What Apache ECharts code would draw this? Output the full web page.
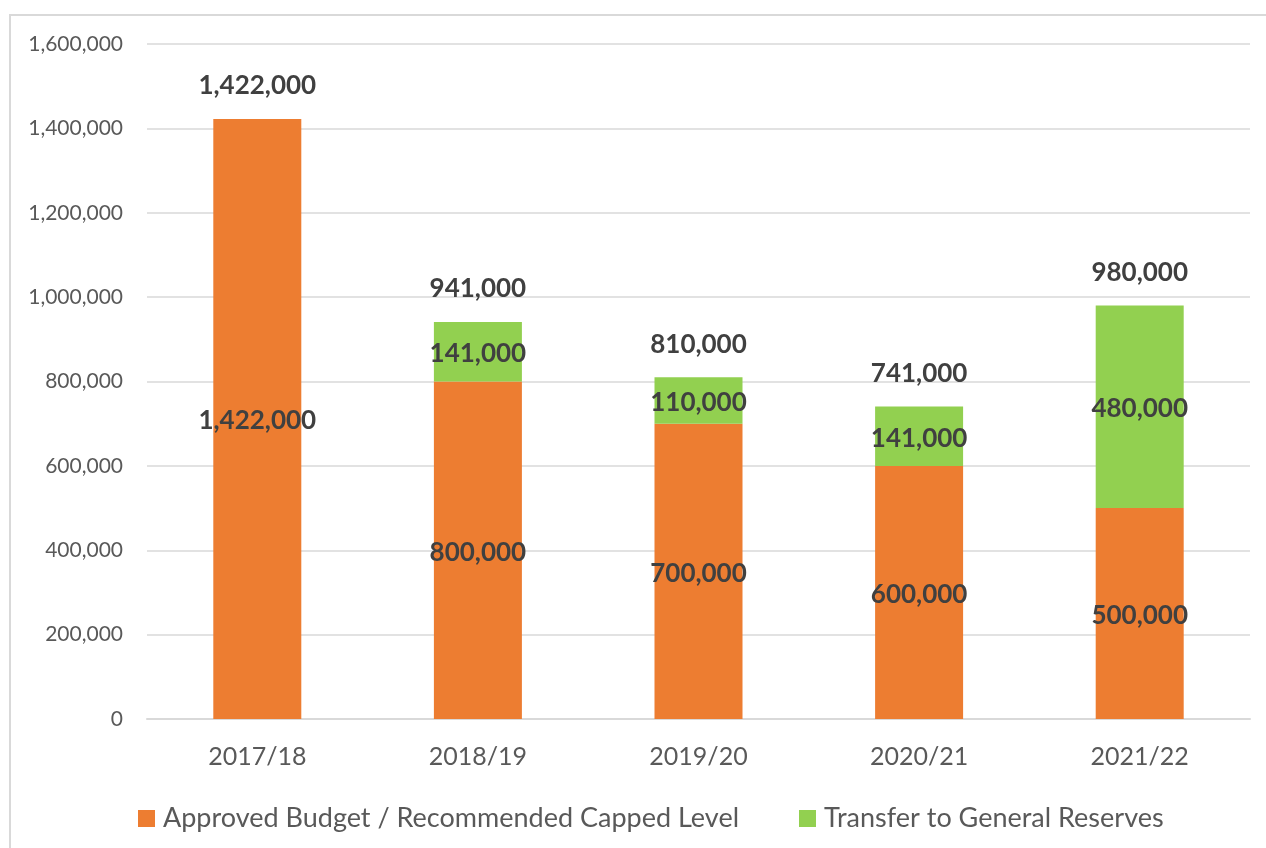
<!DOCTYPE html>
<html>
<head>
<meta charset="utf-8">
<script src="https://cdn.jsdelivr.net/npm/echarts@6/dist/echarts.min.js"></script>
<style>
html, body { margin: 0; padding: 0; background: #fff; }
#chart { width: 1266px; height: 848px; }
</style>
</head>
<body>
<div id="chart"></div>
<script>
var years = ['2017/18', '2018/19', '2019/20', '2020/21', '2021/22'];
var approved = [1422000, 800000, 700000, 600000, 500000];
var transfer = [null, 141000, 110000, 141000, 480000];
var totals = [1422000, 941000, 810000, 741000, 980000];
var topPad = [0, 0, 0, 0, 0];

var font = 'Lato, "Open Sans", sans-serif';
function fmt(v) {
	return Number(v).toLocaleString('en-US');
}

var myChart = echarts.init(document.getElementById('chart'));
myChart.setOption({
	animation: false,
	textStyle: { fontFamily: font },
	graphic: [{
		type: 'rect',
		shape: { x: 10, y: 15, width: 1300, height: 900 },
		style: { fill: 'none', stroke: '#d9d9d9', lineWidth: 2 }
	}],
	grid: { left: 147, right: 16, top: 44, bottom: 129 },
	legend: {
		bottom: 11,
		left: 133,
		itemWidth: 17,
		itemHeight: 17,
		itemGap: 60,
		icon: 'rect',
		textStyle: { fontSize: 27, color: '#595959', fontFamily: font, padding: [0, 0, 0, 3] },
		data: ['Approved Budget / Recommended Capped Level', 'Transfer to General Reserves']
	},
	xAxis: {
		type: 'category',
		data: years,
		axisLine: { lineStyle: { color: '#d9d9d9', width: 2 } },
		axisTick: { show: false },
		axisLabel: { fontSize: 25, color: '#595959', margin: 25 }
	},
	yAxis: {
		type: 'value',
		min: 0,
		max: 1600000,
		interval: 200000,
		axisLine: { show: false },
		axisTick: { show: false },
		splitLine: { lineStyle: { color: '#d9d9d9', width: 1.5 } },
		axisLabel: {
			fontSize: 21,
			color: '#595959',
			margin: 24,
			formatter: function (v) { return fmt(v); }
		}
	},
	series: [{
		name: 'Approved Budget / Recommended Capped Level',
		type: 'bar',
		stack: 'total',
		barWidth: 88,
		data: approved,
		itemStyle: { color: '#ED7D31' },
		label: {
			show: true,
			position: 'inside',
			offset: [0, 2],
			fontSize: 26,
			fontWeight: 'bold',
			color: '#404040',
			formatter: function (p) { return fmt(p.value); }
		}
	}, {
		name: 'Transfer to General Reserves',
		type: 'bar',
		stack: 'total',
		barWidth: 88,
		data: transfer,
		itemStyle: { color: '#92D050' },
		label: {
			show: true,
			position: 'inside',
			offset: [0, 2],
			fontSize: 26,
			fontWeight: 'bold',
			color: '#404040',
			formatter: function (p) { return fmt(p.value); }
		}
	}, {
		name: 'Total',
		type: 'bar',
		stack: 'total',
		barWidth: 88,
		data: topPad,
		silent: true,
		itemStyle: { color: 'transparent' },
		label: {
			show: true,
			position: 'top',
			distance: 20,
			fontSize: 26,
			fontWeight: 'bold',
			color: '#404040',
			formatter: function (p) { return fmt(totals[p.dataIndex]); }
		}
	}]
});
window.addEventListener('resize', function () {
	myChart.resize();
});
</script>
</body>
</html>
